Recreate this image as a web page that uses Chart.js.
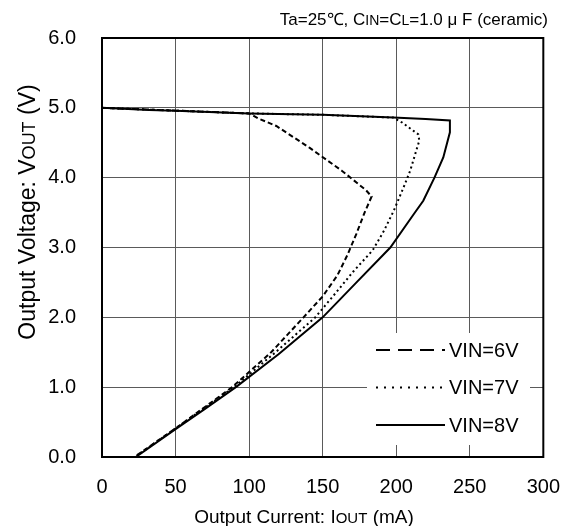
<!DOCTYPE html>
<html>
<head>
<meta charset="utf-8">
<script src="https://cdn.jsdelivr.net/npm/chart.js@4/dist/chart.umd.min.js"></script>
<style>
  html, body { margin: 0; padding: 0; background: #fff; }
  #wrap { width: 578px; height: 526px; position: relative; }
</style>
</head>
<body>
<div id="wrap"><canvas id="chart" width="578" height="526"></canvas></div>
<script>
const FONT = '"Liberation Sans", Arial, sans-serif';

// Output current (mA) / output voltage (V), traced in drawing order
const iout6 = [0, 50, 100, 106, 118.5, 141, 163, 179.5, 183.3, 178.5, 173, 167, 160, 150, 137, 115, 88.5, 50, 22];
const vout6 = [5.0, 4.96, 4.92, 4.85, 4.74, 4.43, 4.10, 3.82, 3.73, 3.5, 3.2, 2.9, 2.6, 2.3, 2.0, 1.5, 1.0, 0.41, 0];

const iout7 = [0, 50, 100, 150, 198, 204, 215, 215.7, 209.5, 205, 198.4, 191.7, 184, 171, 158.5, 145, 118, 89.7, 50, 22.5];
const vout7 = [5.0, 4.96, 4.92, 4.90, 4.86, 4.79, 4.62, 4.53, 4.10, 3.86, 3.53, 3.24, 2.96, 2.66, 2.34, 2.0, 1.5, 1.0, 0.41, 0];

const iout8 = [0, 0, 32, 50, 100, 150, 198, 220, 236.5, 236.5, 232, 226, 218.4, 212, 196, 173, 150, 120, 91, 70, 50, 23];
const vout8 = [6.0, 5.0, 4.97, 4.96, 4.92, 4.90, 4.86, 4.84, 4.82, 4.65, 4.29, 4.0, 3.67, 3.48, 3.0, 2.5, 2.0, 1.47, 1.0, 0.69, 0.40, 0];

const seriesLabels = ["VIN=6V", "VIN=7V", "VIN=8V"];
const seriesDash = [[5, 3], [2, 3], []];
const legendDash = [[14, 8], [2, 6], []];

const xTicks = [0, 50, 100, 150, 200, 250, 300];
const yTicks = [0, 1, 2, 3, 4, 5, 6];

// [text, relative size] pieces, small caps for subscripts
const xTitle = [["Output Current: I", 1], ["OUT", 0.8], [" (mA)", 1]];
const yTitle = [["Output Voltage: V", 1], ["OUT", 0.8], [" (V)", 1]];
const noteText = [["Ta=25℃, C", 1], ["IN", 0.8], ["=C", 1], ["L", 0.8], ["=1.0 μ F (ceramic)", 1]];

const toPoints = (xs, ys) => xs.map((x, i) => ({ x, y: ys[i] }));

function richWidth(ctx, parts, size) {
  return parts.reduce((w, [t, s]) => {
    ctx.font = Math.round(size * s) + "px " + FONT;
    return w + ctx.measureText(t).width;
  }, 0);
}

function drawRich(ctx, parts, size, x, y) {
  // x = left start, y = baseline
  let cx = x;
  parts.forEach(([t, s]) => {
    ctx.font = Math.round(size * s) + "px " + FONT;
    ctx.fillText(t, cx, y);
    cx += ctx.measureText(t).width;
  });
}

const decorations = {
  id: "decorations",
  afterDraw(chart) {
    const { ctx, chartArea: a } = chart;
    ctx.save();
    ctx.fillStyle = "#000";
    ctx.textAlign = "left";
    ctx.textBaseline = "alphabetic";

    // legend box (covers grid)
    ctx.fillStyle = "#fff";
    ctx.fillRect(367, 333, 163, 112);
    ctx.fillStyle = "#000";
    ctx.font = "20px " + FONT;
    ctx.textBaseline = "middle";
    chart.data.datasets.forEach((ds, i) => {
      const y = 350 + i * 37.5;
      ctx.strokeStyle = "#000";
      ctx.lineWidth = 2;
      ctx.setLineDash(legendDash[i]);
      ctx.beginPath();
      ctx.moveTo(376, y);
      ctx.lineTo(445, y);
      ctx.stroke();
      ctx.fillText(ds.label, 449, y + 1);
    });
    ctx.setLineDash([]);
    ctx.textBaseline = "alphabetic";

    // frame
    ctx.strokeStyle = "#000";
    ctx.lineWidth = 2;
    ctx.strokeRect(a.left, a.top, a.right - a.left, a.bottom - a.top);

    // note
    const nw = richWidth(ctx, noteText, 17);
    drawRich(ctx, noteText, 17, 548 - nw, 25);

    // x title
    const xw = richWidth(ctx, xTitle, 19);
    drawRich(ctx, xTitle, 19, 304 - xw / 2, 523);

    // y title
    const yw = richWidth(ctx, yTitle, 23);
    ctx.translate(35, 212);
    ctx.rotate(-Math.PI / 2);
    drawRich(ctx, yTitle, 23, -yw / 2, 0);
    ctx.restore();
  },
};

new Chart(document.getElementById("chart"), {
  type: "scatter",
  data: {
    datasets: [iout6, iout7, iout8].map((xs, i) => ({
      label: seriesLabels[i],
      data: toPoints(xs, [vout6, vout7, vout8][i]),
      showLine: true,
      borderColor: "#000",
      borderWidth: 2,
      borderDash: seriesDash[i],
      pointRadius: 0,
      tension: 0,
      fill: false,
    })),
  },
  options: {
    responsive: false,
    animation: false,
    layout: { padding: { left: 0, right: 25, top: 37, bottom: 0 } },
    plugins: { legend: { display: false }, tooltip: { enabled: false } },
    scales: {
      x: {
        type: "linear",
        min: 0,
        max: 300,
        afterFit(scale) { scale.height = 69; },
        afterBuildTicks(scale) { scale.ticks = xTicks.map((v) => ({ value: v })); },
        grid: { color: "#5a5a5a", lineWidth: 1, drawTicks: false },
        border: { display: false },
        ticks: { color: "#000", font: { family: FONT, size: 20 }, padding: 18 },
      },
      y: {
        type: "linear",
        min: 0,
        max: 6,
        afterFit(scale) { scale.width = 102; },
        afterBuildTicks(scale) { scale.ticks = yTicks.map((v) => ({ value: v })); },
        grid: { color: "#5a5a5a", lineWidth: 1, drawTicks: false },
        border: { display: false },
        ticks: { color: "#000", font: { family: FONT, size: 20 }, padding: 26, callback: (v) => v.toFixed(1) },
      },
    },
  },
  plugins: [decorations],
});
</script>
</body>
</html>
